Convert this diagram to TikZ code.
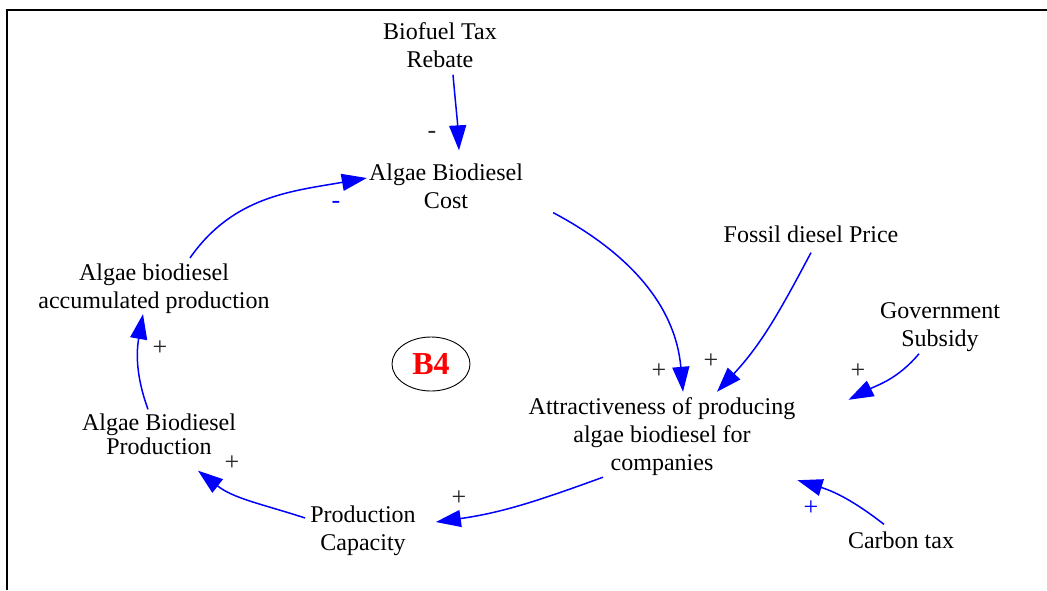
\documentclass[tikz,border=0pt]{standalone}
\usepackage{fontspec}
\setmainfont{Liberation Serif}
\usetikzlibrary{arrows.meta,shapes.geometric}

\begin{document}
\begin{tikzpicture}[x=1pt, y=-1pt,
    var/.style={align=center, inner sep=2pt, font=\fontsize{24}{28}\selectfont},
    sign/.style={inner sep=0pt, text=black!85, font=\fontsize{26}{28}\selectfont},
    link/.style={draw=blue, line width=1.5pt, -{Triangle[length=25pt,width=17pt]}}]
    \useasboundingbox (0,0) rectangle (1047,590);
    \draw[line width=1.8pt] (1047,10) -| (7,590);

    \node[var] (rebate)     at (440,45)  {Biofuel Tax\\Rebate};
    \node[var] (cost)       at (446,186) {Algae Biodiesel\\Cost};
    \node[var] (fossil)     at (811,234) {Fossil diesel Price};
    \node[var] (subsidy)    at (940,327) {Government\\Subsidy};
    \node[var] (attract)    at (662,437) {Attractiveness of producing\\algae biodiesel for\\companies};
    \node[var] (carbon)     at (901,540) {Carbon tax};
    \node[var] (capacity)   at (363,531) {Production\\Capacity};
    \node[var] (production) at (159,434) {Algae Biodiesel\\[-4pt]Production};
    \node[var] (accum)      at (154,289) {Algae biodiesel\\accumulated production};

    \node[draw, ellipse, line width=0.9pt, minimum width=78pt, minimum height=54pt,
          text=red, font=\fontsize{32}{32}\selectfont\bfseries] (loop) at (431,364) {B4};

    % causal links
    \draw[link] ([xshift=13pt,yshift=-5pt]rebate.south) to[out=-85,in=93] ([xshift=13pt,yshift=11pt]cost.north);
    \draw[link] ([xshift=36pt,yshift=4pt]accum.north) to[out=55,in=190] ([yshift=8pt]cost.west);
    \draw[link] ([xshift=28pt,yshift=-2pt]cost.south east) to[out=-28,in=95] ([xshift=21pt,yshift=4pt]attract.north);
    \draw[link] ([yshift=-8pt]fossil.south) to[out=-118,in=47] ([xshift=55pt,yshift=4pt]attract.north);
    \draw[link] ([xshift=-21pt]subsidy.south) to[out=-130,in=27] ([xshift=51pt,yshift=-4pt]attract.north east);
    \draw[link] ([xshift=-17pt,yshift=5pt]carbon.north) to[out=142,in=-17] ([yshift=-2pt]attract.south east);
    \draw[link] ([xshift=-59pt,yshift=1pt]attract.south) to[out=-160,in=8] ([xshift=18pt,yshift=9pt]capacity.east);
    \draw[link] ([xshift=-3pt,yshift=13pt]capacity.west) to[out=162,in=-38] ([xshift=39pt,yshift=-14pt]production.south);
    \draw[link] ([xshift=-11pt,yshift=2pt]production.north) to[out=110,in=-100] ([xshift=-11pt,yshift=2pt]accum.south);

    % polarities
    \node[sign] (s1) at (432,135) {-};
    \node[sign, text=blue] (s2) at (336,205) {-};
    \node[sign] (s3) at (659,371) {+};
    \node[sign] (s4) at (711,361) {+};
    \node[sign] (s5) at (858,371) {+};
    \node[sign, text=blue] (s6) at (811,508) {+};
    \node[sign] (s7) at (459,498) {+};
    \node[sign] (s8) at (232,463) {+};
    \node[sign] (s9) at (160,348) {+};
\end{tikzpicture}
\end{document}
